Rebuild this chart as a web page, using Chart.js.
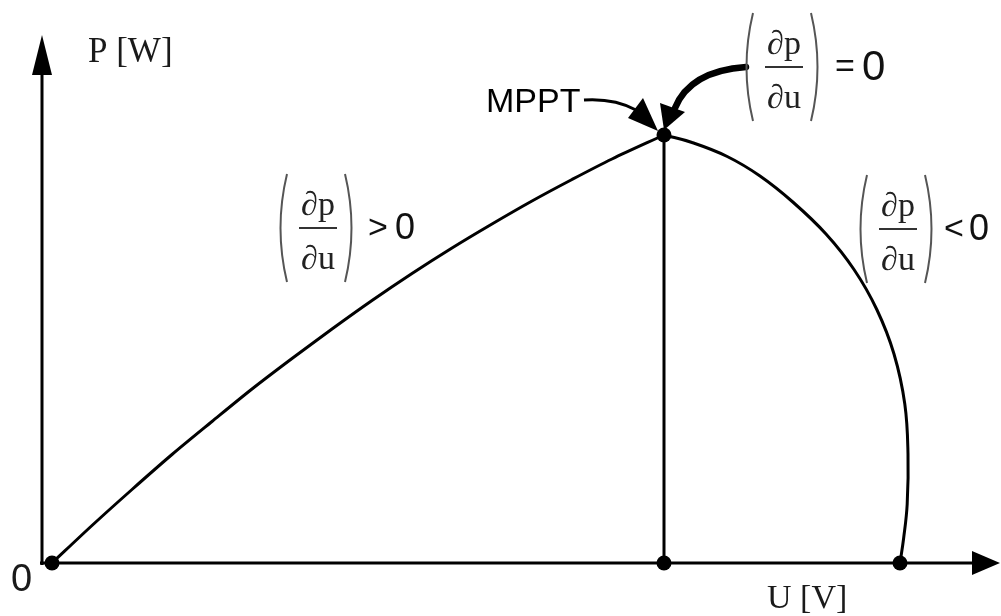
<!DOCTYPE html>
<html>
<head>
<meta charset="utf-8">
<script src="https://cdn.jsdelivr.net/npm/chart.js@4.4.1/dist/chart.umd.min.js"></script>
<style>
    html, body { margin: 0; padding: 0; background: #fff; overflow: hidden; }
    #wrap { width: 1001px; height: 616px; position: relative; }
</style>
</head>
<body>
<div id="wrap"><canvas id="pvChart"></canvas></div>
<script>
// P-U curve, left of the maximum power point
const uLeft = [0, 1, 2, 3, 4, 5, 6, 7, 8, 9, 10, 11, 12, 13, 14, 15.3];
const pLeft = [0, 7.5, 14.7, 21.7, 28.3, 34.8, 40.9, 46.8, 52.5, 57.9, 63.0, 67.8, 72.4, 76.7, 80.8, 85.6];

// P-U curve, right of the maximum power point
const uRight = [15.3, 16.0, 16.88, 17.7, 18.52, 19.35, 20.05, 20.62, 21.05, 21.32, 21.4, 21.38, 21.29, 21.2];
const pRight = [85.6, 84.1, 81.3, 77.4, 72.2, 65.8, 58.7, 50.7, 41.8, 31.8, 21.8, 11.8, 4.9, 0];

// marked points: origin, MPP, Ump on the axis, Uoc
const markU = [0, 15.3, 15.3, 21.2];
const markP = [0, 85.6, 0, 0];

const axisLabels = ['P [W]', 'U [V]', '0'];

const toPoints = (us, ps) => us.map((u, i) => ({ x: u, y: ps[i] }));

function drawParen(ctx, x, top, bottom, dir) {
    // dir = 1 for "(", -1 for ")"
    ctx.beginPath();
    ctx.moveTo(x, top);
    ctx.quadraticCurveTo(x - dir * 13, (top + bottom) / 2, x, bottom);
    ctx.stroke();
}

function drawDeriv(ctx, left, mid, op, opX, zeroX, zeroSize) {
    const top = mid - 54, bottom = mid + 54;
    ctx.save();
    ctx.strokeStyle = '#555';
    ctx.lineWidth = 2;
    drawParen(ctx, left + 6, top, bottom, 1);
    drawParen(ctx, left + 64, top, bottom, -1);
    ctx.strokeStyle = '#333';
    ctx.lineWidth = 2;
    ctx.beginPath();
    ctx.moveTo(left + 18, mid);
    ctx.lineTo(left + 56, mid);
    ctx.stroke();
    ctx.fillStyle = '#222';
    ctx.font = '34px "Liberation Serif"';
    ctx.textAlign = 'center';
    ctx.textBaseline = 'alphabetic';
    ctx.fillText('\u2202p', left + 37, mid - 13);
    ctx.fillText('\u2202u', left + 37, mid + 41);
    ctx.textAlign = 'left';
    ctx.textBaseline = 'middle';
    ctx.fillStyle = '#111';
    ctx.font = '34px "Liberation Sans"';
    ctx.fillText(op, left + opX, mid + 1);
    ctx.font = zeroSize + 'px "Liberation Sans"';
    ctx.fillText('0', left + zeroX, mid + 1);
    ctx.restore();
}

const diagram = {
    id: 'diagram',
    beforeDraw(chart) {
        const ctx = chart.ctx;
        ctx.save();
        ctx.fillStyle = '#fff';
        ctx.fillRect(0, 0, chart.width, chart.height);
        ctx.restore();
    },
    beforeDatasetsDraw(chart) {
        const { ctx, scales: { x, y } } = chart;
        const ax = x.getPixelForValue(-0.25);
        const ay = y.getPixelForValue(0);
        const tipX = x.getPixelForValue(23.7);
        const tipY = y.getPixelForValue(105.6);
        ctx.save();
        ctx.strokeStyle = '#000';
        ctx.fillStyle = '#000';
        ctx.lineWidth = 3;
        // axes
        ctx.beginPath();
        ctx.moveTo(ax, ay + 2);
        ctx.lineTo(ax, tipY + 30);
        ctx.moveTo(ax - 2, ay);
        ctx.lineTo(tipX - 20, ay);
        ctx.stroke();
        // arrow heads
        ctx.beginPath();
        ctx.moveTo(ax, tipY);
        ctx.lineTo(ax - 10, tipY + 40);
        ctx.lineTo(ax + 10, tipY + 40);
        ctx.closePath();
        ctx.fill();
        ctx.beginPath();
        ctx.moveTo(tipX, ay);
        ctx.lineTo(tipX - 28, ay - 12);
        ctx.lineTo(tipX - 28, ay + 12);
        ctx.closePath();
        ctx.fill();
        ctx.restore();
    },
    afterDatasetsDraw(chart) {
        const { ctx, scales: { x, y } } = chart;
        const mx = x.getPixelForValue(markU[1]);
        const my = y.getPixelForValue(markP[1]);
        ctx.save();
        ctx.fillStyle = '#000';
        ctx.strokeStyle = '#000';

        // axis titles
        ctx.fillStyle = '#1a1a1a';
        ctx.font = '35px "Liberation Serif"';
        ctx.textBaseline = 'alphabetic';
        ctx.fillText(axisLabels[0], 88, 62);
        ctx.font = '34px "Liberation Serif"';
        ctx.fillText(axisLabels[1], 767, 608);
        ctx.font = '38px "Liberation Sans"';
        ctx.fillText(axisLabels[2], 11, 591);

        // MPPT label and thin arrow
        ctx.fillStyle = '#000';
        ctx.font = '34px "Liberation Sans"';
        ctx.fillText('MPPT', 486, 112);
        ctx.lineWidth = 3;
        ctx.beginPath();
        ctx.moveTo(mx - 80, my - 35);
        ctx.quadraticCurveTo(mx - 50, my - 37, mx - 28, my - 25);
        ctx.stroke();
        ctx.beginPath();
        ctx.moveTo(mx - 36, my - 17);
        ctx.lineTo(mx - 21, my - 37);
        ctx.lineTo(mx - 6, my - 4);
        ctx.closePath();
        ctx.fill();

        // thick arrow from dp/du = 0
        ctx.lineWidth = 6.5;
        ctx.lineCap = 'round';
        ctx.beginPath();
        ctx.moveTo(mx + 82, my - 68);
        ctx.quadraticCurveTo(mx + 26, my - 64, mx + 11, my - 27);
        ctx.stroke();
        ctx.beginPath();
        ctx.moveTo(mx - 4, my - 32);
        ctx.lineTo(mx + 21, my - 23);
        ctx.lineTo(mx, my - 5);
        ctx.closePath();
        ctx.fill();
        ctx.restore();

        drawDeriv(ctx, 747, 67, '=', 88, 115, 42);
        drawDeriv(ctx, 281, 228, '>', 87, 114, 36);
        drawDeriv(ctx, 861, 229, '<', 83, 108, 36);
    }
};

const ctx = document.getElementById('pvChart').getContext('2d');
new Chart(ctx, {
    type: 'scatter',
    data: {
        datasets: [
            {
                data: toPoints(uLeft, pLeft),
                showLine: true,
                borderColor: '#000',
                borderWidth: 3,
                pointRadius: 0,
                tension: 0.3
            },
            {
                data: toPoints(uRight, pRight),
                showLine: true,
                borderColor: '#000',
                borderWidth: 3,
                pointRadius: 0,
                tension: 0.4
            },
            {
                data: toPoints([markU[1], markU[2]], [markP[1], markP[2]]),
                showLine: true,
                borderColor: '#000',
                borderWidth: 3,
                pointRadius: 0
            },
            {
                data: toPoints(markU, markP),
                showLine: false,
                pointRadius: 7.5,
                pointBackgroundColor: '#000',
                pointBorderWidth: 0
            }
        ]
    },
    options: {
        responsive: true,
        maintainAspectRatio: false,
        animation: false,
        devicePixelRatio: 1,
        layout: { padding: 0, autoPadding: false },
        scales: {
            x: { type: 'linear', display: false, min: -1.3, max: 23.725 },
            y: { type: 'linear', display: false, min: -10.6, max: 112.6 }
        },
        plugins: {
            legend: { display: false },
            tooltip: { enabled: false }
        }
    },
    plugins: [diagram]
});
</script>
</body>
</html>
